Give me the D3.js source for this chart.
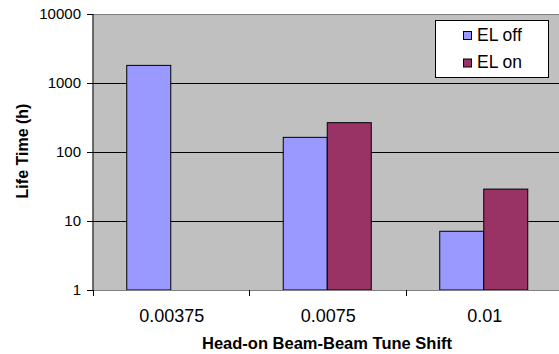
<!DOCTYPE html>
<html><head><meta charset="utf-8">
<script src="https://cdn.jsdelivr.net/npm/d3@7"></script>
<style>
html,body{margin:0;padding:0;background:#fff;}
text{font-family:"Liberation Sans",Arial,sans-serif;fill:#000;}
</style></head>
<body>
<svg id="chart" width="559" height="354"></svg>
<script>
const categories = ["0.00375", "0.0075", "0.01"];
const seriesNames = ["EL off", "EL on"];
const elOff = [1800, 163, 7.1];
const elOn = [null, 266, 29];
const yTicks = [1, 10, 100, 1000, 10000];
const colors = ["#9999FF", "#993366"];

(function () {
const svg = d3.select("#chart");
const pLeft = 92.5, pTop = 14, pBottom = 290, bandW = 156.5;
const x = d3.scaleBand().domain(categories).range([pLeft, pLeft + bandW * categories.length]).padding(0);
const y = d3.scaleLog().domain([1, 10000]).range([pBottom, pTop]);
const inner = d3.scaleBand().domain(seriesNames).range([0, x.bandwidth()]).paddingInner(0).paddingOuter(0.778);

const plotRight = 559;
svg.append("rect").attr("x", pLeft).attr("y", pTop).attr("width", plotRight - pLeft).attr("height", pBottom - pTop).attr("fill", "#C0C0C0");
svg.append("g").selectAll("line").data(yTicks.filter(d => d > 1)).join("line")
  .attr("x1", pLeft).attr("x2", plotRight)
  .attr("y1", d => Math.round(y(d)) + 0.5).attr("y2", d => Math.round(y(d)) + 0.5)
  .attr("stroke", d => d === 10000 ? "#808080" : "#000").attr("stroke-width", 1);

const rows = categories.map((c, i) => ({cat: c, vals: [elOff[i], elOn[i]]}));
const g = svg.append("g");
rows.forEach(r => {
  r.vals.forEach((v, j) => {
    if (v == null) return;
    g.append("rect")
      .attr("x", x(r.cat) + inner(seriesNames[j]))
      .attr("y", y(v))
      .attr("width", inner.bandwidth())
      .attr("height", pBottom - y(v))
      .attr("fill", colors[j])
      .attr("stroke", "#000").attr("stroke-width", 1);
  });
});

svg.append("line").attr("x1", pLeft).attr("x2", plotRight).attr("y1", pBottom + 0.5).attr("y2", pBottom + 0.5).attr("stroke", "#808080");

const yAxis = d3.axisLeft(y).tickValues(yTicks).tickFormat(d3.format("d")).tickSize(6).tickPadding(6);
const ya = svg.append("g").attr("transform", `translate(${pLeft + 0.5},0)`).call(yAxis);
ya.select(".domain").attr("stroke", "#000").attr("d", `M0,${pTop}V${pBottom + 0.5}`);
ya.selectAll(".tick line").attr("stroke", "#000");
ya.selectAll("text").attr("font-size", 15).attr("font-family", "Liberation Sans, Arial, sans-serif").attr("fill", "#000");

const bounds = categories.map(c => x(c));
svg.append("g").selectAll("line").data(bounds).join("line")
  .attr("x1", d => Math.round(d) + 0.5).attr("x2", d => Math.round(d) + 0.5)
  .attr("y1", pBottom).attr("y2", pBottom + 6).attr("stroke", "#000");
svg.append("g").selectAll("text").data(categories).join("text")
  .attr("x", d => x(d) + x.bandwidth() / 2 + 1)
  .attr("y", 322)
  .attr("text-anchor", "middle").attr("font-size", 18).text(d => d);

svg.append("text").attr("x", 327).attr("y", 349).attr("text-anchor", "middle")
  .attr("font-size", 16.5).attr("font-weight", "bold").text("Head-on Beam-Beam Tune Shift");
svg.append("text").attr("transform", "translate(28,151) rotate(-90)").attr("text-anchor", "middle")
  .attr("font-size", 16).attr("font-weight", "bold").text("Life Time (h)");

const lg = svg.append("g");
lg.append("rect").attr("x", 435.5).attr("y", 20.5).attr("width", 113).attr("height", 57).attr("fill", "#fff").attr("stroke", "#000");
seriesNames.forEach((s, i) => {
  lg.append("rect").attr("x", 463.5).attr("y", 31.5 + i * 27.5).attr("width", 8).attr("height", 8)
    .attr("fill", colors[i]).attr("stroke", "#000");
  lg.append("text").attr("x", 477).attr("y", 40.5 + i * 27.5).attr("font-size", 17.5).text(s);
});
})();
</script>
</body></html>
